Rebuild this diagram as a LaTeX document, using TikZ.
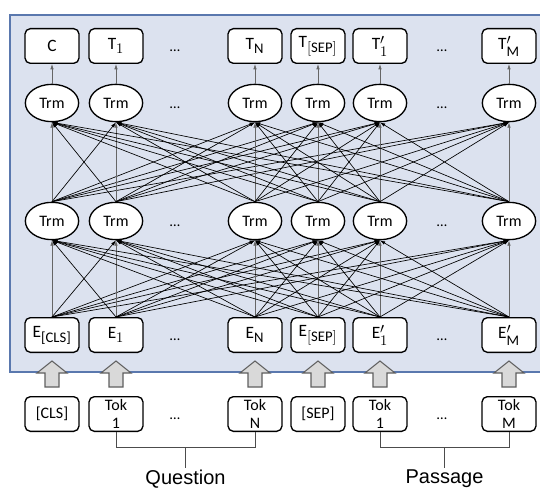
\documentclass[tikz,border=0pt]{standalone}
\usepackage{amsmath}
\usepackage{fontspec}
\setmainfont{Carlito}
\newfontfamily\captionfont{Liberation Sans}
\DeclareMathSizes{13}{13}{11}{9}
\usetikzlibrary{shapes.geometric,arrows.meta,calc}

\definecolor{panel area}{HTML}{DCE2EF}
\definecolor{panel edge}{HTML}{5A78AE}
\definecolor{arrow area}{HTML}{D9D9D9}
\definecolor{arrow edge}{HTML}{5F5F5F}
\def\blockarrow#1{(#1-7,387) -- (#1-7,373) -- (#1-15,373) -- (#1,361)
    -- (#1+15,373) -- (#1+7,373) -- (#1+7,387) -- cycle}
\tikzset{tokbox/.style={draw, line width=1pt, rounded corners=4pt, fill=white,
        minimum width=40.5pt, minimum height=26pt, inner sep=0pt, align=center,
        font=\fontsize{12}{14}\selectfont},
    vecbox/.style={tokbox, font=\fontsize{13}{15}\selectfont},
    trm/.style={ellipse, draw, line width=1pt, fill=white, minimum width=40pt,
        minimum height=28pt, inner sep=0pt, font=\fontsize{12}{14}\selectfont},
    link/.style={-{Latex[length=4pt,width=2.6pt]}, line width=0.5pt},
    vert/.style={draw=black!60},
    cross/.style={draw=black},
    bigarrow/.style={draw=arrow edge, fill=arrow area, line width=0.8pt},
    dots/.style={font=\fontsize{11}{12}\selectfont, inner sep=1pt},
    brace/.style={draw=black!70, line width=0.6pt},
    caption/.style={font=\captionfont\fontsize{15}{16}\selectfont, inner sep=1pt}}

\begin{document}
\begin{tikzpicture}[x=0.75pt, y=-0.75pt]
    \useasboundingbox (0,0) rectangle (540,492);
    \fill[panel area] (10,15) rectangle (540,372);
    \draw[panel edge, line width=1pt] (540,15) -- (10,15) -- (10,372) -- (540,372);

    % one column per token
    \foreach \i/\x/\t/\e/\k in {
        1/52/{C}/{$\mathrm{E}_{\text{[CLS]}}$}/{[CLS]},
        2/116/{$\mathrm{T}_1$}/{$\mathrm{E}_1$}/{Tok\\1},
        3/255/{$\mathrm{T}_{\mathrm{N}}$}/{$\mathrm{E}_{\mathrm{N}}$}/{Tok\\N},
        4/318/{$\mathrm{T}_{[\mathrm{SEP}]}$}/{$\mathrm{E}_{[\mathrm{SEP}]}$}/{[SEP]},
        5/380/{$\mathrm{T}'_1$}/{$\mathrm{E}'_1$}/{Tok\\1},
        6/509/{$\mathrm{T}'_{\mathrm{M}}$}/{$\mathrm{E}'_{\mathrm{M}}$}/{Tok\\M}}{
        \node[vecbox] (out\i) at (\x,46) {\t};
        \node[trm] (hi\i) at (\x,103) {Trm};
        \node[trm] (lo\i) at (\x,221) {Trm};
        \node[vecbox] (emb\i) at (\x,335) {\e};
        \draw[bigarrow] \blockarrow{\x};
        \node[tokbox] (tok\i) at (\x,414) {\k};
    }

    \foreach \r/\y in {out/51, hi/108, lo/226, emb/340, tok/419}{
        \node[dots] (\r dq) at (175,\y) {\ldots};
        \node[dots] (\r dp) at (442,\y) {\ldots};
    }

    \foreach \i in {1,...,6}{
        \foreach \j in {1,...,6}{
            \ifnum\i=\j \def\linkcol{vert}\else\def\linkcol{cross}\fi
            \draw[link, \linkcol] (emb\i.north) -- (lo\j.south);
            \draw[link, \linkcol] (lo\i.north) -- (hi\j.south);
        }
        \draw[link, vert] (hi\i.north) -- (out\i.south);
    }

    % question and passage brackets
    \draw[brace] (tok2.south) -- ++(0,15) -| (tok3.south);
    \coordinate (qjoin) at ($($(tok2.south)!0.5!(tok3.south)$)+(0,15)$);
    \node[caption, anchor=north] (question) at ($(qjoin)+(0,21)$) {Question};
    \draw[brace] (qjoin) -- (question.north);

    \draw[brace] (tok5.south) -- ++(0,15) -| (tok6.south);
    \coordinate (pjoin) at ($($(tok5.south)!0.5!(tok6.south)$)+(0,15)$);
    \node[caption, anchor=north] (passage) at ($(pjoin)+(0,21)$) {Passage};
    \draw[brace] (pjoin) -- (passage.north);
\end{tikzpicture}
\end{document}
